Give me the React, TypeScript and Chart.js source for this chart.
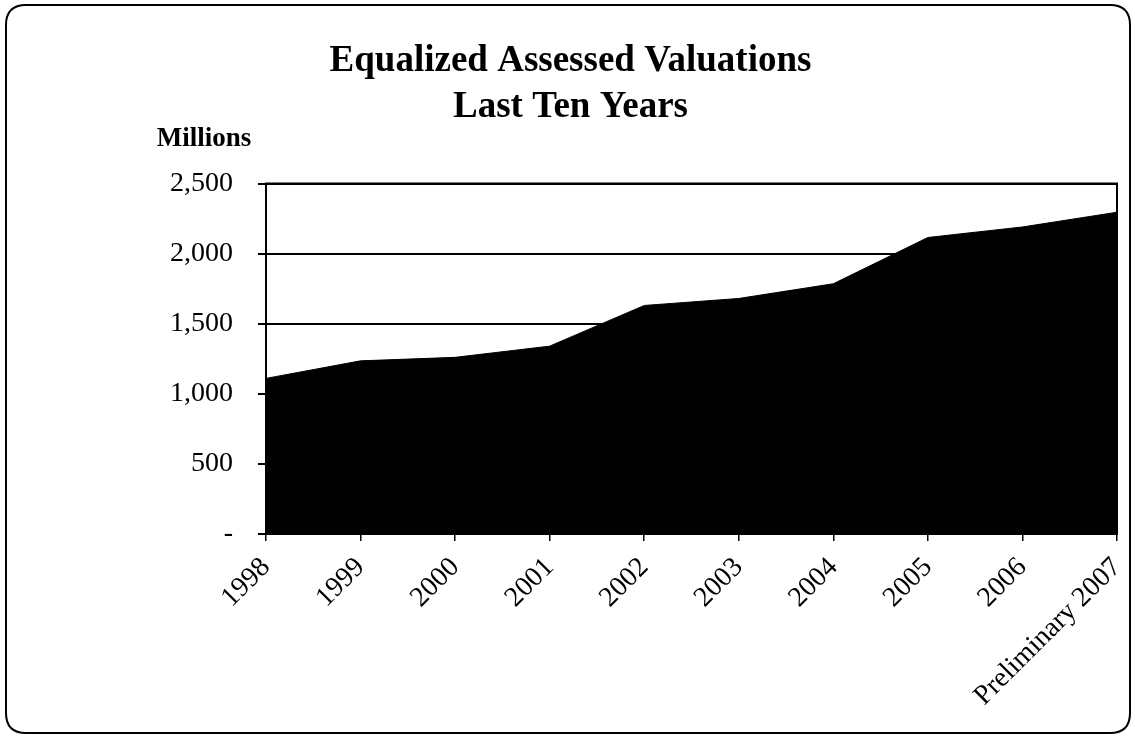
import React, { useEffect, useRef } from "react";
import { Chart, registerables } from "chart.js";

Chart.register(...registerables);

const categories = ["1998", "1999", "2000", "2001", "2002", "2003", "2004", "2005", "2006", "Preliminary 2007"];
const valuations = [1110, 1235, 1260, 1340, 1630, 1680, 1785, 2115, 2190, 2295];
const titleLines = ["Equalized Assessed Valuations", "Last Ten Years"];
const unitLabel = "Millions";
const yMin = 0;
const yMax = 2500;
const yStep = 500;

const FONT = "'Liberation Serif', 'Times New Roman', serif";

const framePlugin = {
  id: "frame",
  beforeDraw(chart: any) {
    const ctx = chart.ctx;
    ctx.save();
    ctx.fillStyle = "#ffffff";
    ctx.fillRect(0, 0, chart.width, chart.height);
    ctx.strokeStyle = "#000000";
    ctx.lineWidth = 2;
    const x = 6, y = 5, w = 1124, h = 728, r = 20;
    ctx.beginPath();
    ctx.moveTo(x + r, y);
    ctx.lineTo(x + w - r, y);
    ctx.quadraticCurveTo(x + w, y, x + w, y + r);
    ctx.lineTo(x + w, y + h - r);
    ctx.quadraticCurveTo(x + w, y + h, x + w - r, y + h);
    ctx.lineTo(x + r, y + h);
    ctx.quadraticCurveTo(x, y + h, x, y + h - r);
    ctx.lineTo(x, y + r);
    ctx.quadraticCurveTo(x, y, x + r, y);
    ctx.closePath();
    ctx.stroke();
    ctx.restore();
  },
  afterDraw(chart: any) {
    const ctx = chart.ctx;
    const a = chart.chartArea;
    ctx.save();
    ctx.strokeStyle = "#000000";
    ctx.lineWidth = 2;
    ctx.strokeRect(a.left, a.top, a.right - a.left, a.bottom - a.top);
    ctx.fillStyle = "#000000";
    ctx.font = `bold 27px ${FONT}`;
    ctx.textAlign = "center";
    ctx.textBaseline = "middle";
    ctx.fillText(unitLabel, a.left - 62, a.top - 44);
    ctx.restore();
  },
};

export default function App() {
  const ref = useRef<HTMLCanvasElement>(null);

  useEffect(() => {
    if (!ref.current) return;
    const chart = new Chart(ref.current, {
      type: "line",
      data: {
        labels: categories,
        datasets: [
          {
            data: valuations,
            borderColor: "#000000",
            backgroundColor: "#000000",
            borderWidth: 1,
            fill: "origin",
            tension: 0,
            pointRadius: 0,
          },
        ],
      },
      options: {
        responsive: false,
        animation: false,
        layout: { padding: { left: 24, right: 18, top: 0, bottom: 0 } },
        plugins: {
          legend: { display: false },
          tooltip: { enabled: false },
          title: {
            display: true,
            text: titleLines,
            color: "#000000",
            font: { family: FONT, size: 37, weight: "bold", lineHeight: 1.25 },
            padding: { top: 38, bottom: 53 },
          },
        },
        scales: {
          x: {
            type: "category",
            offset: false,
            grid: {
              display: true,
              drawOnChartArea: false,
              drawTicks: true,
              tickLength: 7,
              color: "#000000",
              lineWidth: 1.5,
            },
            border: { display: true, color: "#000000", width: 2 },
            ticks: {
              color: "#000000",
              font: { family: FONT, size: 28 },
              maxRotation: 45,
              minRotation: 45,
              padding: 10,
              autoSkip: false,
            },
            afterFit(scale: any) {
              scale.height = 202;
              scale.paddingLeft = 0;
              scale.paddingRight = 0;
            },
          },
          y: {
            min: yMin,
            max: yMax,
            grid: {
              color: "#000000",
              lineWidth: 2,
              drawTicks: true,
              tickLength: 8,
            },
            border: { display: true, color: "#000000", width: 2 },
            ticks: {
              stepSize: yStep,
              color: "#000000",
              font: { family: FONT, size: 28 },
              padding: 25,
              callback: (v: any) => (Number(v) === 0 ? "-" : Number(v).toLocaleString("en-US")),
            },
            afterFit(scale: any) {
              scale.width = 242;
            },
          },
        },
      },
      plugins: [framePlugin],
    });
    return () => chart.destroy();
  }, []);

  return (
    <div style={{ position: "fixed", left: 0, top: 0, width: 1135, height: 736, background: "#fff" }}>
      <canvas ref={ref} width={1135} height={736} style={{ display: "block" }} />
    </div>
  );
}
